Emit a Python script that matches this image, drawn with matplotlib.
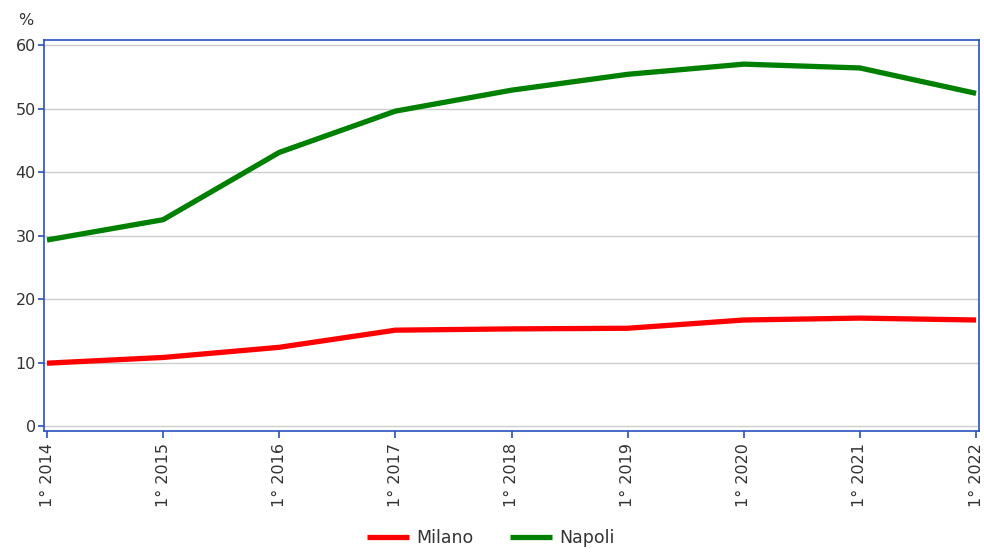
import matplotlib
matplotlib.use("Agg")
import matplotlib.pyplot as plt

years = ["1° 2014", "1° 2015", "1° 2016", "1° 2017", "1° 2018",
         "1° 2019", "1° 2020", "1° 2021", "1° 2022"]
milano = [9.9, 10.8, 12.4, 15.1, 15.3, 15.4, 16.7, 17.0, 16.7]
napoli = [29.3, 32.5, 43.1, 49.6, 52.9, 55.4, 57.0, 56.4, 52.4]

BLUE = "#2a52be"
TXT = "#333333"

fig = plt.figure(figsize=(9.84, 5.52), dpi=100)
ax = fig.add_axes([0.0447, 0.219, 0.9503, 0.7085])

x = range(len(years))
ax.plot(x, milano, color="#ff0000", lw=3.8, label="Milano", solid_capstyle="butt")
ax.plot(x, napoli, color="#008000", lw=3.8, label="Napoli", solid_capstyle="butt")

ax.set_xlim(-0.026, len(years) - 1 + 0.026)
ax.set_ylim(-0.8, 60.8)
ax.set_yticks(range(0, 61, 10))
ax.set_xticks(list(x))
ax.set_xticklabels(years, rotation=90)
ax.grid(axis="y", color="#cccccc", lw=1)
ax.set_axisbelow(True)

for sp in ax.spines.values():
    sp.set_edgecolor(BLUE)
    sp.set_linewidth(1.2)
ax.tick_params(axis="both", colors=BLUE, labelcolor=TXT, labelsize=11.5, length=5, width=1.2)
ax.tick_params(axis="y", length=4, pad=2)

fig.text(0.018, 0.962, "%", color=TXT, fontsize=11.5, ha="left", va="center")

ax.legend(loc="center", bbox_to_anchor=(0.478, -0.274), ncol=2, frameon=False,
          fontsize=12.5, labelcolor=TXT, handlelength=2.4, columnspacing=2.1,
          handletextpad=0.45)

plt.savefig("out.png", dpi=100)
plt.close()
